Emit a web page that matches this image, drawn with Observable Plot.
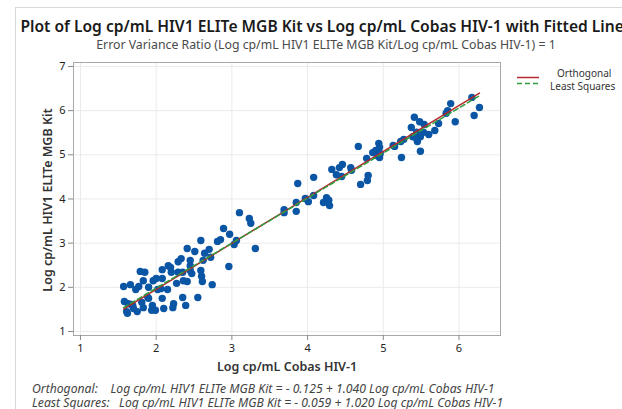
<!DOCTYPE html>
<html>
<head>
<meta charset="utf-8">
<script src="https://cdn.jsdelivr.net/npm/d3@7"></script>
<script src="https://cdn.jsdelivr.net/npm/@observablehq/plot@0.6"></script>
<style>
  html, body { margin: 0; padding: 0; background: #fff; }
  body { width: 622px; height: 409px; overflow: hidden; position: relative; font-family: "Noto Sans", "Open Sans", sans-serif; }
  #border { position: absolute; left: 15px; top: 7px; width: 700px; height: 500px; border: 1px solid #d9d9d9; }
  #chart { position: absolute; left: 0; top: 0; }
  .txt { position: absolute; white-space: pre; }
  #title { left: 0; width: 652px; top: 15px; text-align: center; font-size: 15.6px; font-weight: 600; color: #1a1a1a; }
  #subtitle { left: 0; width: 652px; top: 36px; text-align: center; font-size: 12.3px; color: #4a4a4a; }
  #xlabel { left: 73px; width: 428px; top: 358px; text-align: center; font-size: 12.5px; font-weight: 600; color: #333; }
  #ylabel { left: 47px; top: 200px; transform: translate(-50%, -50%) rotate(-90deg); font-size: 12.5px; font-weight: 600; color: #333; }
  .eq { left: 32px; font-size: 12.2px; line-height: 13px; font-style: italic; color: #444; }
  .leg { font-size: 10px; color: #333; }
</style>
</head>
<body>
<div id="border"></div>
<div id="chart"></div>
<div id="title" class="txt">Plot of Log cp/mL HIV1 ELITe MGB Kit vs Log cp/mL Cobas HIV-1 with Fitted Lines</div>
<div id="subtitle" class="txt">Error Variance Ratio (Log cp/mL HIV1 ELITe MGB Kit/Log cp/mL Cobas HIV-1) = 1</div>
<div id="xlabel" class="txt">Log cp/mL Cobas HIV-1</div>
<div id="ylabel" class="txt">Log cp/mL HIV1 ELITe MGB Kit</div>
<div class="txt eq" style="top:382px">Orthogonal:    Log cp/mL HIV1 ELITe MGB Kit = - 0.125 + 1.040 Log cp/mL Cobas HIV-1</div>
<div class="txt eq" style="top:396px">Least Squares:   Log cp/mL HIV1 ELITe MGB Kit = - 0.059 + 1.020 Log cp/mL Cobas HIV-1</div>
<div class="txt leg" style="left:557px; top:66px">Orthogonal</div>
<div class="txt leg" style="left:550px; top:79px">Least Squares</div>
<script>
// Data
const cobas = [
  1.57,1.66,1.58,1.63,1.61,1.62,1.69,1.75,1.70,1.77,1.73,1.79,1.85,1.83,1.83,1.89,1.95,1.94,1.99,1.96,
  2.00,2.02,2.06,2.15,2.08,2.22,2.23,2.08,2.16,2.19,2.29,2.27,1.90,1.90,1.81,2.10,2.20,2.29,2.08,1.67,
  3.10,3.23,3.25,2.89,2.97,2.85,2.81,2.59,3.06,3.03,3.31,2.41,2.51,2.70,2.64,2.72,2.62,2.45,2.33,2.45,
  2.45,2.47,2.59,2.96,2.35,2.60,2.61,2.36,2.41,2.74,2.35,2.55,2.39,
  3.69,3.69,3.85,3.85,3.87,3.97,4.01,4.08,4.08,4.21,4.25,4.28,4.29,4.32,4.38,4.42,4.45,4.46,4.57,4.58,
  4.67,4.70,4.78,4.79,4.80,4.86,4.90,4.92,4.94,4.95,4.95,4.96,5.13,5.24,5.15,5.23,5.27,5.37,5.39,5.41,
  5.44,5.44,5.45,5.48,5.49,5.49,5.53,5.54,5.60,5.68,5.73,5.83,5.85,5.89,5.95,6.17,6.20,6.27
];
const elite = [
  2.02,2.06,1.68,1.63,1.45,1.41,1.59,1.45,1.52,2.02,1.95,2.36,2.34,2.15,1.54,1.77,1.59,1.48,1.48,2.15,
  2.20,1.95,1.97,1.95,1.75,1.54,1.63,2.40,2.49,2.45,2.58,2.09,2.00,1.75,1.66,1.52,2.34,2.34,2.20,1.61,
  3.69,3.56,3.45,3.33,3.20,3.08,3.04,3.06,3.06,2.97,2.88,2.88,2.81,2.86,2.77,2.68,2.61,2.61,2.65,2.49,
  2.38,2.31,2.38,2.47,2.34,2.25,2.13,2.15,2.13,2.06,1.77,1.77,1.59,
  3.76,3.69,3.72,3.92,4.35,4.01,3.94,4.08,4.49,3.92,4.03,3.97,3.85,4.67,4.55,4.71,4.51,4.78,4.71,4.65,
  5.19,4.33,4.92,4.42,4.53,5.05,5.10,4.98,5.26,5.17,4.94,5.03,5.21,4.94,5.19,5.30,5.35,5.62,5.41,5.85,
  5.51,5.37,5.30,5.75,5.41,5.08,5.51,5.69,5.46,5.55,5.71,5.94,6.00,6.16,5.75,6.30,5.89,6.07
];
const fitNames = ["Orthogonal", "Least Squares"];
const intercepts = [-0.125, -0.059];
const slopes = [1.040, 1.020];
const fitColors = ["#b5282c", "#2e9e3e"];
const xTicks = [1, 2, 3, 4, 5, 6];
const yTicks = [1, 2, 3, 4, 5, 6, 7];

const points = cobas.map((x, i) => ({x, y: elite[i]}));
const xmin = d3.min(cobas), xmax = d3.max(cobas);
const fits = fitNames.map((name, k) => [xmin, xmax].map(x => ({name, x, y: intercepts[k] + slopes[k] * x})));

const W = 622, H = 409;
const chart = Plot.plot({
  width: W, height: H,
  marginLeft: 73, marginTop: 62, marginRight: 122, marginBottom: 74,
  style: {fontFamily: "Noto Sans, sans-serif", fontSize: "11px", color: "#222", background: "transparent"},
  x: {domain: [0.908, 6.548], label: null},
  y: {domain: [0.909, 7.09], label: null},
  marks: [
    Plot.gridX(xTicks, {stroke: "#ebebeb", strokeOpacity: 1}),
    Plot.gridY(yTicks, {stroke: "#ebebeb", strokeOpacity: 1}),
    Plot.frame({stroke: "#a8a8a8"}),
    Plot.axisX(xTicks, {tickSize: 5, tickPadding: 4, stroke: "#888", fill: "#222", fontSize: 11, label: null}),
    Plot.axisY(yTicks, {tickSize: 5, tickPadding: 3, stroke: "#888", fill: "#222", fontSize: 11, label: null}),
    Plot.dot(points, {x: "x", y: "y", r: 3.7, fill: "#0b55a5", stroke: "none"}),
    Plot.line(fits[0], {x: "x", y: "y", stroke: fitColors[0], strokeWidth: 1.5}),
    Plot.line(fits[1], {x: "x", y: "y", stroke: fitColors[1], strokeWidth: 1.5, strokeDasharray: "5,3"})
  ]
});
document.getElementById("chart").appendChild(chart);

// legend swatches drawn with Plot as a small chart
const legend = Plot.plot({
  width: 40, height: 30, margin: 0,
  x: {domain: [0, 1], axis: null}, y: {domain: fitNames, axis: null, range: [7, 20]},
  style: {background: "transparent"},
  marks: [
    Plot.ruleY([fitNames[0]], {x1: 0.05, x2: 0.6, stroke: fitColors[0], strokeWidth: 1.5}),
    Plot.ruleY([fitNames[1]], {x1: 0.05, x2: 0.6, stroke: fitColors[1], strokeWidth: 1.5, strokeDasharray: "5,3"})
  ]
});
legend.style.position = "absolute";
legend.style.left = "515px";
legend.style.top = "66px";
document.body.appendChild(legend);
</script>
</body>
</html>
